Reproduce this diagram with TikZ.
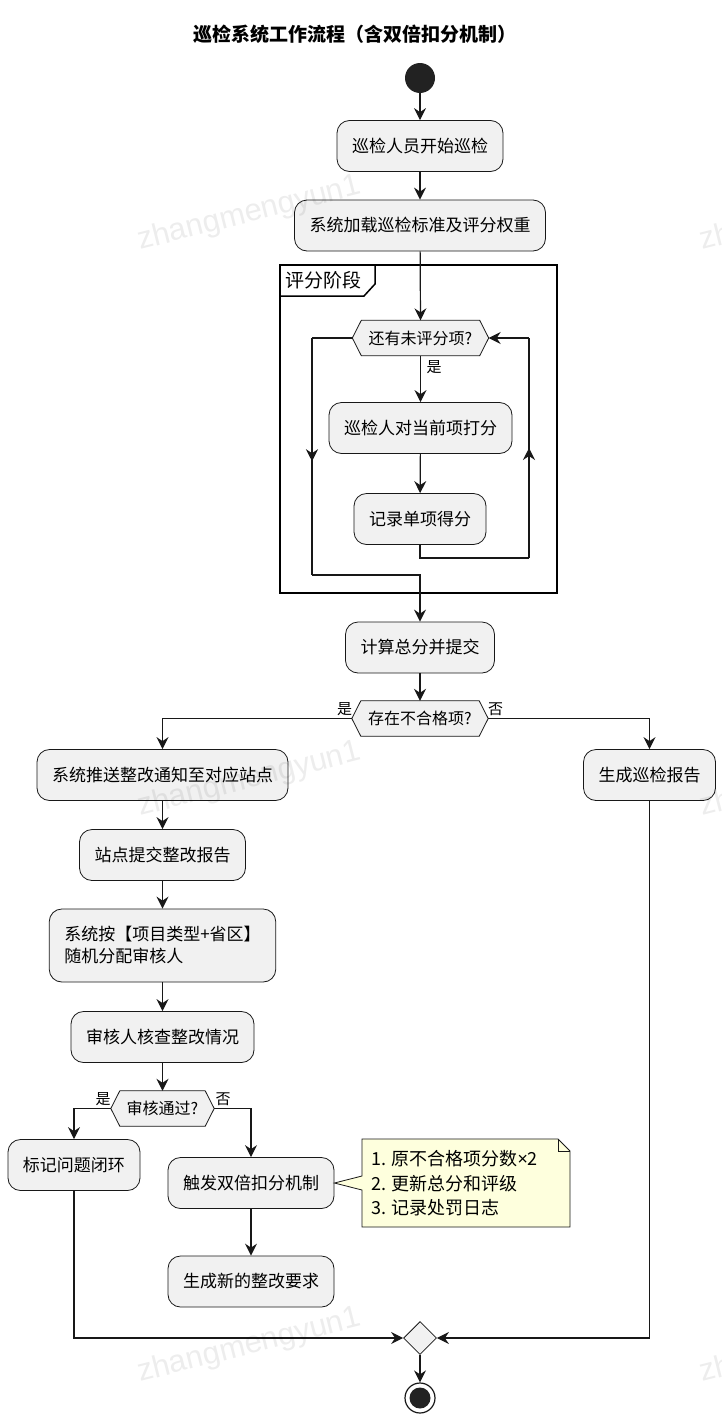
\documentclass[tikz,border=0pt]{standalone}
\usepackage{fontspec}
\setmainfont{Noto Sans CJK SC}
\newfontfamily\wmfont{Liberation Sans}
\newfontfamily\latinfont{Noto Sans}
\usetikzlibrary{arrows.meta,shapes.geometric,calc,decorations.markings}
\pgfdeclarelayer{background}
\pgfsetlayers{background,main}
\definecolor{ln}{HTML}{181818}
\definecolor{boxbg}{HTML}{F1F1F1}
\definecolor{notebg}{HTML}{FEFFDD}
\definecolor{startc}{HTML}{222222}
\begin{document}
\begin{tikzpicture}[x=1pt,y=-1pt,
  act/.style={draw=ln, line width=0.8pt, fill=boxbg, rounded corners=12.5pt, minimum height=51pt, inner xsep=15pt, inner ysep=0pt, font=\fontsize{17}{22}\selectfont},
  hexlbl/.style={minimum height=35pt, inner sep=0pt, font=\fontsize{16}{19}\selectfont},
  hexdraw/.style={draw=ln, line width=0.8pt, fill=boxbg},
  flow/.style={draw=ln, line width=1.2pt, -{Stealth[length=12pt,width=12pt,inset=4pt]}},
  plain/.style={draw=ln, line width=1.2pt},
  lbl/.style={font=\fontsize{15}{18}\selectfont, inner sep=0pt},
  midarrow/.style={postaction={decorate}, decoration={markings, mark=at position #1 with {\arrow{Stealth[length=12pt,width=12pt,inset=4pt]}}}},
  wmstyle/.style={font=\wmfont\fontsize{31}{31}\selectfont, text=black, text opacity=0.07, inner sep=0pt},
]
\useasboundingbox (0,0) rectangle (722,1424);
\begin{pgfonlayer}{background}
  \fill[white] (0,0) rectangle (722,1424);
\end{pgfonlayer}

% title
\node[font=\fontsize{19}{22}\selectfont\bfseries] (title) at (355,34) {巡检系统工作流程（含双倍扣分机制）};

% start
\node[circle, fill=startc, minimum size=30pt, inner sep=0pt] (start) at (420,78) {};
\node[act] (b1) at (420,146) {巡检人员开始巡检};
\node[act] (b2) at (420,225.5) {系统加载巡检标准及评分权重};

% group frame
\draw[line width=2pt] (280,265) rectangle (557,593);
\draw[line width=1.5pt] (280,265) -- (375,265) -- (375,284) -- (364,296) -- (280,296);
\node[font=\fontsize{19}{22}\selectfont, anchor=west, inner sep=0pt] (grpl) at (285,280.5) {评分阶段};

\node[hexlbl, minimum width=136pt] (d1) at (420.5,338) {还有未评分项?};
\node[lbl] (y1) at (434,367) {是};
\node[act] (b3) at (420.5,428) {巡检人对当前项打分};
\node[act] (b4) at (420,519) {记录单项得分};

\node[act] (b5) at (420,647.5) {计算总分并提交};
\node[hexlbl, minimum width=136pt] (d2) at (420,718.5) {存在不合格项?};
\node[lbl] (y2) at (344.5,709.5) {是};
\node[lbl] (n2) at (495.5,709.5) {否};
\node[act] (b6) at (649.5,775) {生成巡检报告};

\node[act] (b7) at (162.5,775) {系统推送整改通知至对应站点};
\node[act] (b8) at (162.5,855) {站点提交整改报告};
\node[act, minimum height=73pt, align=left] (b9) at (162.5,945.5) {系统按【项目类型+省区】\\随机分配审核人};
\node[act] (b10) at (162.5,1037) {审核人核查整改情况};
\node[hexlbl, minimum width=103pt] (d3) at (162.5,1108.5) {审核通过?};
\node[lbl] (y3) at (103,1099) {是};
\node[lbl] (n3) at (223,1099) {否};
\node[act] (b11) at (74,1165) {标记问题闭环};
\node[act] (b12) at (251,1183) {触发双倍扣分机制};
\node[act] (b13) at (251,1281.5) {生成新的整改要求};

\node[diamond, draw=ln, fill=boxbg, line width=0.8pt, minimum size=33pt, inner sep=0pt] (m) at (420,1338) {};
\node[circle, draw=ln, line width=1.2pt, fill=white, minimum size=30pt, inner sep=0pt] (end) at (420,1398) {};
\fill[startc] (end.center) circle (10.5pt);

% hexagons
\begin{pgfonlayer}{background}
\foreach \n in {d1,d2,d3}{
  \draw[hexdraw] (\n.west) -- ([xshift=9pt]\n.north west) -- ([xshift=-9pt]\n.north east) -- (\n.east) -- ([xshift=-9pt]\n.south east) -- ([xshift=9pt]\n.south west) -- cycle;
}
\end{pgfonlayer}

% note
\draw[draw=ln, line width=0.8pt, fill=notebg] (362,1139) -- (558,1139) -- (570,1151) -- (570,1227) -- (362,1227) -- (362,1190) -- (b12.east) -- (362,1176) -- cycle;
\draw[draw=ln, line width=0.8pt] (558,1139) -- (558,1151) -- (570,1151);
\node[font=\fontsize{18}{24.5}\selectfont, align=left, anchor=west, inner sep=0pt] (note) at (371,1183.5) {1. 原不合格项分数{\latinfont ×}2\\2. 更新总分和评级\\3. 记录处罚日志};

% coordinates
\coordinate (c1) at (420,558);
\coordinate (c2) at (529,558);
\coordinate (c3) at (529,338);
\coordinate (c4) at (312,338);
\coordinate (c5) at (312,575);
\coordinate (c6) at (420,575);
\coordinate (c7) at (162.5,718.5);
\coordinate (c8) at (649.5,718.5);
\coordinate (c9) at (74,1108.5);
\coordinate (c10) at (251,1108.5);
\coordinate (c11) at (74,1338);
\coordinate (c12) at (649.5,1338);

% connectors
\draw[flow] (start) -- (b1);
\draw[flow] (b1) -- (b2);
\draw[flow] (b2) -- (d1.north);
\draw[flow] (d1.south) -- (b3.north);
\draw[flow] (b3) -- (b4);
\draw[plain] (b4.south) -- (c1) -- (c2);
\draw[plain, midarrow=0.5] (c2) -- (c3);
\draw[flow] (c3) -- (d1.east);
\draw[plain] (d1.west) -- (c4);
\draw[plain, midarrow=0.52] (c4) -- (c5);
\draw[flow] (c5) -- (c6) -- (b5.north);
\draw[flow] (b5) -- (d2.north);
\draw[flow] (d2.west) -- (c7) -- (b7.north);
\draw[flow] (d2.east) -- (c8) -- (b6.north);
\draw[flow] (b7) -- (b8);
\draw[flow] (b8) -- (b9);
\draw[flow] (b9) -- (b10);
\draw[flow] (b10) -- (d3.north);
\draw[flow] (d3.west) -- (c9) -- (b11.north);
\draw[flow] (d3.east) -- (c10) -- (b12.north);
\draw[flow] (b12) -- (b13);
\draw[flow] (b11.south) -- (c11) -- (m.west);
\draw[flow] (b6.south) -- (c12) -- (m.east);
\draw[flow] (m.south) -- (end.north);

% watermarks
\begin{scope}
\clip (0,0) rectangle (722,1424);
\foreach \yy in {250,816,1382}{
  \foreach \xx in {140,702}{
    \node[wmstyle, anchor=base west, rotate=14.2] (wm-\xx-\yy) at (\xx,\yy) {zhangmengyun1};
  }
}
\end{scope}
\end{tikzpicture}
\end{document}
